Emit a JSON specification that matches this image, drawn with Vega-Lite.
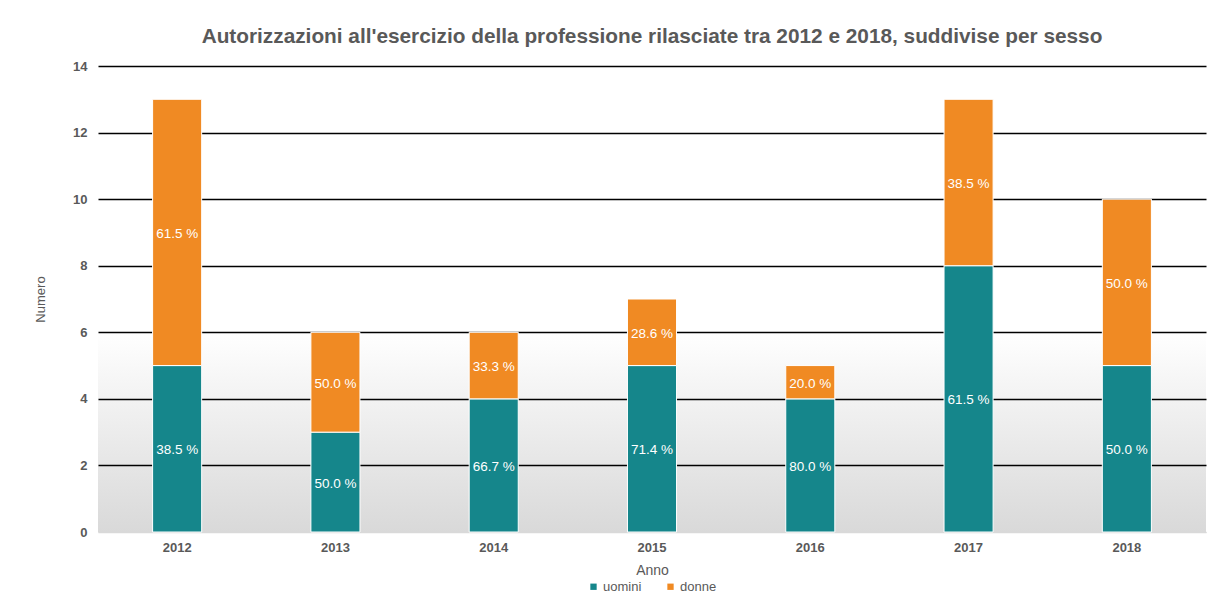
{
  "$schema": "https://vega.github.io/schema/vega-lite/v6.json",
  "autosize": "none",
  "width": 1108,
  "height": 466,
  "padding": {"left": 98, "top": 66, "right": 4, "bottom": 76},
  "background": "white",
  "view": {
    "stroke": null,
    "fill": {
      "gradient": "linear",
      "x1": 0, "y1": 0, "x2": 0, "y2": 1,
      "stops": [
        {"offset": 0, "color": "#ffffff"},
        {"offset": 0.5714, "color": "#ffffff"},
        {"offset": 1, "color": "#d9d9d9"}
      ]
    }
  },
  "title": {
    "text": "Autorizzazioni all'esercizio della professione rilasciate tra 2012 e 2018, suddivise per sesso",
    "font": "Liberation Sans",
    "fontSize": 20.8,
    "fontWeight": "bold",
    "color": "#595959",
    "anchor": "middle",
    "offset": 12
  },
  "config": {
    "font": "Liberation Sans",
    "legend": {"layout": {"bottom": {"anchor": "middle"}}}
  },
  "data": {
    "values": [
      {"anno": "2012", "sesso": "uomini", "n": 5, "pct": "38.5 %"},
      {"anno": "2012", "sesso": "donne", "n": 8, "pct": "61.5 %"},
      {"anno": "2013", "sesso": "uomini", "n": 3, "pct": "50.0 %"},
      {"anno": "2013", "sesso": "donne", "n": 3, "pct": "50.0 %"},
      {"anno": "2014", "sesso": "uomini", "n": 4, "pct": "66.7 %"},
      {"anno": "2014", "sesso": "donne", "n": 2, "pct": "33.3 %"},
      {"anno": "2015", "sesso": "uomini", "n": 5, "pct": "71.4 %"},
      {"anno": "2015", "sesso": "donne", "n": 2, "pct": "28.6 %"},
      {"anno": "2016", "sesso": "uomini", "n": 4, "pct": "80.0 %"},
      {"anno": "2016", "sesso": "donne", "n": 1, "pct": "20.0 %"},
      {"anno": "2017", "sesso": "uomini", "n": 8, "pct": "61.5 %"},
      {"anno": "2017", "sesso": "donne", "n": 5, "pct": "38.5 %"},
      {"anno": "2018", "sesso": "uomini", "n": 5, "pct": "50.0 %"},
      {"anno": "2018", "sesso": "donne", "n": 5, "pct": "50.0 %"}
    ]
  },
  "encoding": {
    "x": {
      "field": "anno",
      "type": "nominal",
      "scale": {"paddingInner": 0.69, "paddingOuter": 0.345},
      "axis": {
        "title": "Anno",
        "labelAngle": 0,
        "labelFontSize": 13,
        "labelFontWeight": "bold",
        "labelColor": "#595959",
        "labelPadding": 9,
        "ticks": false,
        "domainColor": "#d9d9d9",
        "domainWidth": 1,
        "titleFontSize": 14,
        "titleFontWeight": "normal",
        "titleColor": "#595959",
        "titlePadding": 9
      }
    },
    "y": {
      "field": "n",
      "type": "quantitative",
      "stack": "zero",
      "scale": {"domain": [0, 14]},
      "axis": {
        "title": "Numero",
        "values": [0, 2, 4, 6, 8, 10, 12, 14],
        "grid": true,
        "gridColor": {"condition": {"test": "datum.value === 0", "value": "#d9d9d9"}, "value": "#000000"},
        "gridWidth": 1.5,
        "domain": false,
        "ticks": false,
        "labelPadding": 11,
        "labelFontSize": 13,
        "labelFontWeight": "bold",
        "labelColor": "#595959",
        "titleFontSize": 13,
        "titleFontWeight": "normal",
        "titleColor": "#595959",
        "titlePadding": 25
      }
    },
    "order": {"field": "sesso", "sort": "descending"}
  },
  "layer": [
    {
      "mark": {"type": "bar", "stroke": "white", "strokeWidth": 1},
      "encoding": {
        "color": {
          "field": "sesso",
          "type": "nominal",
          "scale": {"domain": ["uomini", "donne"], "range": ["#15868B", "#F08A23"]},
          "legend": {
            "title": null,
            "orient": "bottom",
            "direction": "horizontal",
            "symbolType": "square",
            "symbolSize": 40,
            "symbolStrokeWidth": 0,
            "labelFontSize": 13,
            "labelColor": "#595959",
            "columnPadding": 22,
            "labelOffset": 3,
            "offset": 3
          }
        }
      }
    },
    {
      "mark": {"type": "text", "color": "white", "fontSize": 13.5, "baseline": "middle", "dy": 1.5},
      "encoding": {
        "y": {"field": "n", "type": "quantitative", "stack": "zero", "bandPosition": 0.5},
        "detail": {"field": "sesso"},
        "text": {"field": "pct"}
      }
    }
  ]
}
